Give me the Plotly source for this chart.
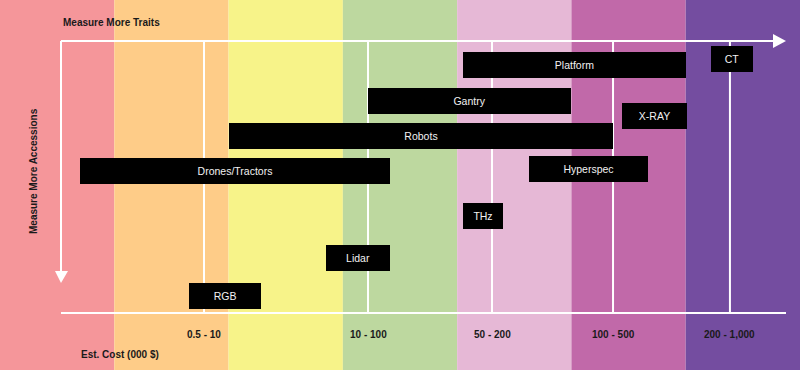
import plotly.graph_objects as go

# ---- data ----
band_colors = ["#F5969A", "#FECC88", "#F7F389", "#BDD89F", "#E6B8D6", "#C169A9", "#744DA0"]

cost_labels = ["0.5 - 10", "10 - 100", "50 - 200", "100 - 500", "200 - 1,000"]
cost_pos = [1.785, 3.22, 4.305, 5.364, 6.387]

techs = ["Platform", "CT", "Gantry", "X-RAY", "Robots", "Drones/Tractors",
         "Hyperspec", "THz", "Lidar", "RGB"]
x_start = [4.05, 6.22, 3.22, 5.44, 2.00, 0.70, 4.63, 4.05, 2.85, 1.65]
x_end = [6.00, 6.59, 5.00, 6.01, 5.36, 3.41, 5.67, 4.40, 3.41, 2.28]
accession_level = [65, 59, 100.5, 116, 135.5, 171, 169, 216, 258, 296]

# ---- layout constants ----
W, H = 800, 370
XMAX = 7.0
px = XMAX / W           # x units per pixel
BOX_H = 26
LINE_TOP, LINE_BOT = 41, 313
X_LEFT = 61 * px
X_RIGHT = 786 * px
WHITE = "#FFFFFF"
FONT = "Liberation Sans, Arial, sans-serif"

fig = go.Figure()

fig.add_trace(go.Bar(
    y=accession_level,
    x=[e - s for s, e in zip(x_start, x_end)],
    base=x_start,
    orientation="h",
    width=BOX_H,
    marker=dict(color="#000000", line=dict(width=0)),
    text=techs,
    textposition="inside",
    insidetextanchor="middle",
    textangle=0,
    textfont=dict(color="#F2F2F2", size=10.5, family=FONT),
    hoverinfo="skip",
    showlegend=False,
))

shapes = []
for i, c in enumerate(band_colors):
    shapes.append(dict(type="rect", xref="x", yref="paper", x0=i, x1=i + 1, y0=0, y1=1,
                       fillcolor=c, line=dict(width=0), layer="below"))

for p in cost_pos:
    shapes.append(dict(type="line", xref="x", yref="y", x0=p, x1=p, y0=LINE_TOP, y1=LINE_BOT,
                       line=dict(color=WHITE, width=2), layer="below"))

# top arrow axis
shapes.append(dict(type="line", xref="x", yref="y", x0=X_LEFT, x1=773 * px, y0=LINE_TOP, y1=LINE_TOP,
                   line=dict(color=WHITE, width=2), layer="below"))
shapes.append(dict(type="path", xref="x", yref="y",
                   path=f"M {773*px},{LINE_TOP-7} L {786*px},{LINE_TOP} L {773*px},{LINE_TOP+7} Z",
                   fillcolor=WHITE, line=dict(width=0), layer="below"))
# bottom baseline
shapes.append(dict(type="line", xref="x", yref="y", x0=X_LEFT, x1=X_RIGHT, y0=LINE_BOT, y1=LINE_BOT,
                   line=dict(color=WHITE, width=2), layer="below"))
# left arrow axis
shapes.append(dict(type="line", xref="x", yref="y", x0=X_LEFT, x1=X_LEFT, y0=LINE_TOP, y1=271,
                   line=dict(color=WHITE, width=2), layer="below"))
shapes.append(dict(type="path", xref="x", yref="y",
                   path=f"M {55*px},271 L {68*px},271 L {X_LEFT},283 Z",
                   fillcolor=WHITE, line=dict(width=0), layer="below"))

lab_font = dict(family=FONT, size=10, color="#1A1A1A")
annotations = []
for lab, p in zip(cost_labels, cost_pos):
    annotations.append(dict(x=p, y=334, xref="x", yref="y", text=f"<b>{lab}</b>",
                            showarrow=False, font=lab_font, xanchor="center", yanchor="middle"))
annotations.append(dict(x=79 * px, y=354, xref="x", yref="y", text="<b>Est. Cost (000 $)</b>",
                        showarrow=False, font=lab_font, xanchor="left", yanchor="middle"))
annotations.append(dict(x=61 * px, y=22, xref="x", yref="y", text="<b>Measure More Traits</b>",
                        showarrow=False, font=lab_font, xanchor="left", yanchor="middle"))
annotations.append(dict(x=33 * px, y=171, xref="x", yref="y", text="<b>Measure More Accessions</b>",
                        showarrow=False, font=lab_font, textangle=-90,
                        xanchor="center", yanchor="middle"))

fig.update_layout(
    width=W, height=H,
    margin=dict(l=0, r=0, t=0, b=0),
    paper_bgcolor="#FFFFFF",
    plot_bgcolor="rgba(0,0,0,0)",
    xaxis=dict(range=[0, XMAX], visible=False, showgrid=False, zeroline=False, fixedrange=True),
    yaxis=dict(range=[H, 0], visible=False, showgrid=False, zeroline=False, fixedrange=True),
    shapes=shapes,
    annotations=annotations,
    bargap=0,
)

fig.write_html("out.html")
